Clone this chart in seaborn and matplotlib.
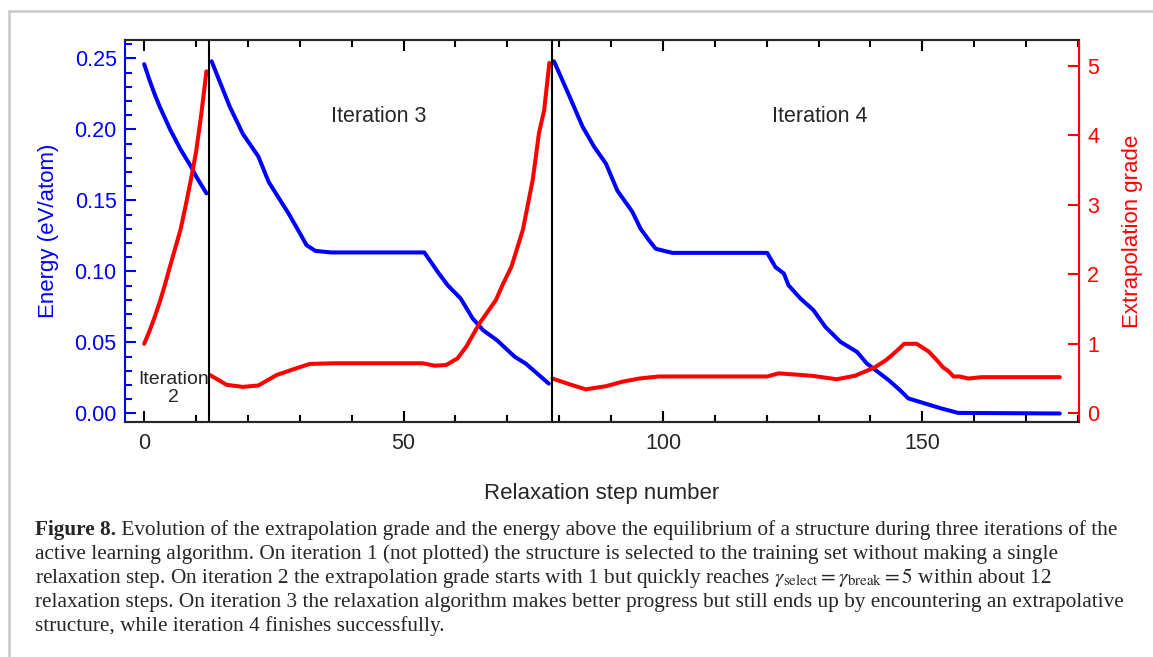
"""
Energy and extrapolation grade over relaxation steps (iterations 2-4).
"""
import matplotlib
matplotlib.use("Agg")
import matplotlib.pyplot as plt
from matplotlib.lines import Line2D
from matplotlib.ticker import MultipleLocator
import pandas as pd
import seaborn as sns

# ---- data ----
# iteration 2
steps2 = [0, 1, 2, 3, 4, 5, 6, 7, 8, 9, 10, 11, 12]
energy2 = [0.246, 0.235, 0.225, 0.216, 0.208, 0.200, 0.193, 0.186, 0.180, 0.174, 0.167, 0.161, 0.155]
grade2 = [1.00, 1.18, 1.38, 1.60, 1.85, 2.12, 2.38, 2.64, 2.99, 3.36, 3.76, 4.30, 4.92]

# iteration 3
esteps3 = [13, 16.5, 19, 22, 24, 27.8, 30, 31.3, 33, 36, 54, 56.8, 58.5, 61, 63.3, 65.3, 68,
           71.4, 73.6, 78]
energy3 = [0.248, 0.216, 0.197, 0.181, 0.163, 0.141, 0.127, 0.1185, 0.1145, 0.1134, 0.1134,
           0.0986, 0.0903, 0.081, 0.067, 0.0587, 0.0516, 0.040, 0.035, 0.021]
gsteps3 = [12.7, 15.9, 19, 22, 25.5, 29.4, 31.9, 36.4, 53.7, 56, 58.2, 60.4, 62.1, 64.6, 67.8,
           69.1, 70.8, 73, 74.9, 76.1, 77.1, 78.1]
grade3 = [0.55, 0.41, 0.38, 0.40, 0.55, 0.65, 0.71, 0.72, 0.72, 0.685, 0.695, 0.79, 0.96, 1.29,
          1.63, 1.85, 2.11, 2.64, 3.36, 4.03, 4.36, 5.04]

# iteration 4
esteps4 = [79, 81.9, 84.5, 86.7, 89, 91.2, 94.1, 95.7, 97.3, 98.6, 101.8, 120.1, 121.7, 123.3,
           124.2, 126.5, 129, 131.3, 134.2, 137.4, 139.3, 143.5, 145.7, 147.3, 149.2, 153.7,
           156.9, 176.5]
energy4 = [0.248, 0.224, 0.202, 0.188, 0.176, 0.157, 0.142, 0.130, 0.122, 0.116, 0.1131, 0.1131,
           0.103, 0.0986, 0.0903, 0.081, 0.0728, 0.061, 0.0505, 0.0434, 0.0352, 0.0235, 0.0164,
           0.0106, 0.0085, 0.0035, 0.0004, 0.0]
gsteps4 = [78.7, 81.9, 85.1, 89, 92.2, 95.4, 99.2, 120.1, 122.3, 128.7, 133.5, 137, 140.8, 143.1,
           145.1, 146.5, 148.9, 151.2, 153.1, 154, 155, 156, 157.2, 158.9, 161.4, 176.5]
grade4 = [0.50, 0.42, 0.345, 0.39, 0.455, 0.50, 0.53, 0.53, 0.575, 0.54, 0.49, 0.54, 0.66, 0.77,
          0.90, 1.00, 1.00, 0.89, 0.74, 0.66, 0.61, 0.53, 0.53, 0.50, 0.52, 0.52]

# step where a new iteration starts (the structure is re-selected)
iteration_breaks = [12.4, 78.6]

caption_head = "Figure 8."
caption_lines = [
    " Evolution of the extrapolation grade and the energy above the equilibrium of a structure during three iterations of the",
    "active learning algorithm. On iteration 1 (not plotted) the structure is selected to the training set without making a single",
    r"relaxation step. On iteration 2 the extrapolation grade starts with 1 but quickly reaches $\gamma_{\rm select}=\gamma_{\rm break}=5$ within about 12",
    "relaxation steps. On iteration 3 the relaxation algorithm makes better progress but still ends up by encountering an extrapolative",
    "structure, while iteration 4 finishes successfully.",
]


def frame(steps, values, name, iteration):
    return pd.DataFrame({"step": steps, name: values, "iteration": iteration})


energy = pd.concat([frame(steps2, energy2, "energy", 2),
                    frame(esteps3, energy3, "energy", 3),
                    frame(esteps4, energy4, "energy", 4)])
grade = pd.concat([frame(steps2, grade2, "grade", 2),
                   frame(gsteps3, grade3, "grade", 3),
                   frame(gsteps4, grade4, "grade", 4)])

sns.set_style("ticks")
plt.rcParams["font.family"] = ["Liberation Sans", "DejaVu Sans"]
plt.rcParams["mathtext.fontset"] = "stix"

fig = plt.figure(figsize=(11.53, 6.57), dpi=100)
ax = fig.add_axes([125 / 1153, 1 - 422 / 657, (1079 - 125) / 1153, (422 - 40) / 657])
ax2 = ax.twinx()

sns.lineplot(data=energy, x="step", y="energy", units="iteration", estimator=None,
             color="#0000ff", lw=2.9, ax=ax, sort=False)
sns.lineplot(data=grade, x="step", y="grade", units="iteration", estimator=None,
             color="#ff0000", lw=2.9, ax=ax2, sort=False)

for b in iteration_breaks:
    ax2.axvline(b, color="black", lw=1.5, zorder=5)

ax.set_xlim(-3.7, 180.2)
ax.set_ylim(-0.006, 0.263)
ax2.set_ylim(-0.125, 5.37)

ax.xaxis.set_major_locator(MultipleLocator(50))
ax.xaxis.set_minor_locator(MultipleLocator(10))
ax.yaxis.set_major_locator(MultipleLocator(0.05))
ax.yaxis.set_minor_locator(MultipleLocator(0.01))
ax.yaxis.set_major_formatter(matplotlib.ticker.FormatStrFormatter("%.2f"))
ax2.yaxis.set_major_locator(MultipleLocator(1))

ax.tick_params(axis="x", which="both", direction="in", top=True, bottom=True,
               color="black", labelsize=15.5, pad=8, width=1.5)
ax.tick_params(axis="x", which="major", length=8)
ax.tick_params(axis="x", which="minor", length=5)
ax.tick_params(axis="y", which="both", direction="in", left=True, right=False,
               color="#0000ff", labelcolor="#0000ff", labelsize=15.5, pad=6, width=1.5)
ax.tick_params(axis="y", which="major", length=8)
ax.tick_params(axis="y", which="minor", length=5)
ax2.tick_params(axis="y", which="major", direction="in", length=8, width=1.5,
                color="#ff0000", labelcolor="#ff0000", labelsize=15.5, pad=6)

for s in ["top", "bottom"]:
    ax.spines[s].set_linewidth(1.5)
    ax2.spines[s].set_linewidth(1.5)
ax.spines["left"].set_color("#0000ff")
ax.spines["left"].set_linewidth(1.5)
ax2.spines["left"].set_visible(False)
ax2.spines["right"].set_color("#ff0000")
ax2.spines["right"].set_linewidth(1.5)

ax.set_xlabel("Relaxation step number", fontsize=16, labelpad=20.5)
ax.set_ylabel("Energy (eV/atom)", fontsize=16, color="#0000ff", labelpad=11)
ax2.set_ylabel("Extrapolation grade", fontsize=16, color="#ff0000", labelpad=16)

ax.text(45.2, 0.2094, "Iteration 3", fontsize=15.5, ha="center", va="center")
ax.text(130.3, 0.2094, "Iteration 4", fontsize=15.5, ha="center", va="center")
ax.text(5.6, 0.0175, "Iteration\n2", fontsize=14, ha="center", va="center", linespacing=1.05)

# page frame (top and left edges of the journal page)
fig.add_artist(Line2D([9 / 1153, 1.0], [1 - 11 / 657, 1 - 11 / 657], transform=fig.transFigure,
                      color="#c8c8c8", lw=1.8))
fig.add_artist(Line2D([9 / 1153, 9 / 1153], [0.0, 1 - 11 / 657], transform=fig.transFigure,
                      color="#c8c8c8", lw=1.8))

# caption
serif = ["Liberation Serif", "DejaVu Serif"]
cap_size = 15.3
x0 = 35 / 1153
line_y = [530, 554, 578, 602, 626]
renderer = fig.canvas.get_renderer()
head = fig.text(x0, 1 - line_y[0] / 657, caption_head, fontsize=cap_size, family=serif,
                weight="bold", va="center")
head_w = head.get_window_extent(renderer).width / fig.bbox.width
for i, (line, y) in enumerate(zip(caption_lines, line_y)):
    fig.text(x0 + (head_w if i == 0 else 0), 1 - y / 657, line, fontsize=cap_size,
             family=serif, va="center")

fig.savefig("out.png", dpi=100)
plt.close(fig)
